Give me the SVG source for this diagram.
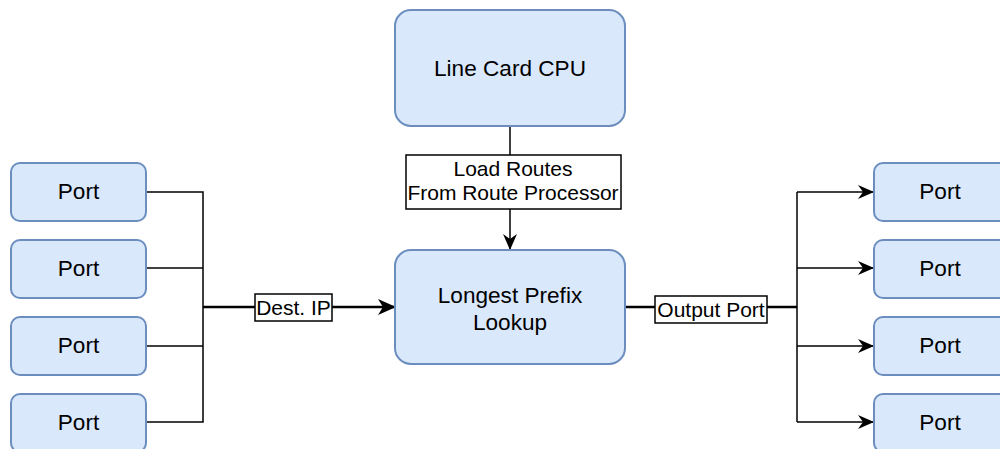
<svg xmlns="http://www.w3.org/2000/svg" width="1000" height="449" viewBox="0 0 1000 449">
<style>
.node{fill:#dae8fc;stroke:#6c8ebf;stroke-width:2}
.t{font-family:"Liberation Sans",Arial,sans-serif;font-size:22.6px;fill:#000;text-anchor:middle}
.lt{font-family:"Liberation Sans",Arial,sans-serif;font-size:21px;fill:#000;text-anchor:middle}
.thin{fill:none;stroke:#000;stroke-width:1.5}
.thick{fill:none;stroke:#000;stroke-width:2.5}
.lbl{fill:#fff;stroke:#000;stroke-width:1.5}
</style>
<defs>
<marker id="arr" markerWidth="16" markerHeight="14" refX="15" refY="7" orient="auto" markerUnits="userSpaceOnUse">
<path d="M0,0 L16,7 L0,14 L5,7 Z" fill="#000"/>
</marker>
<marker id="arrB" markerWidth="18" markerHeight="16" refX="17" refY="8" orient="auto" markerUnits="userSpaceOnUse">
<path d="M0,0 L18,8 L0,16 L5,8 Z" fill="#000"/>
</marker>
</defs>
<g id="connectors">
<path class="thin" d="M146,192 H203 V422 H146"/>
<path class="thin" d="M146,268 H203"/>
<path class="thin" d="M146,346 H203"/>
<path class="thick" d="M203,307 H395" marker-end="url(#arrB)"/>
<path class="thick" d="M625,307 H797"/>
<path class="thin" d="M797,192 V422"/>
<path class="thin" d="M797,192 H873" marker-end="url(#arr)"/>
<path class="thin" d="M797,268 H873" marker-end="url(#arr)"/>
<path class="thin" d="M797,346 H873" marker-end="url(#arr)"/>
<path class="thin" d="M797,422 H873" marker-end="url(#arr)"/>
<path class="thin" d="M510,126 V249" marker-end="url(#arr)"/>
<rect class="lbl" x="406" y="155" width="215" height="54"/>
<text class="lt" x="513" y="176">Load Routes</text>
<text class="lt" x="513" y="200">From Route Processor</text>
<rect class="lbl" x="255" y="294" width="77" height="27"/>
<text class="lt" x="293.5" y="315">Dest. IP</text>
<rect class="lbl" x="655" y="296" width="112" height="27"/>
<text class="lt" x="711" y="317">Output Port</text>
</g>
<g id="cpu">
<rect class="node" x="395" y="10" width="230" height="116" rx="16"/>
<text class="t" x="510" y="76">Line Card CPU</text>
</g>
<g id="lpl">
<rect class="node" x="395" y="250" width="230" height="114" rx="16"/>
<text class="t" x="510" y="303">Longest Prefix</text>
<text class="t" x="510" y="330">Lookup</text>
</g>
<g id="inPort1"><rect class="node" x="11" y="163" width="135" height="58" rx="9"/><text class="t" x="78.5" y="199">Port</text></g>
<g id="inPort2"><rect class="node" x="11" y="240" width="135" height="58" rx="9"/><text class="t" x="78.5" y="276">Port</text></g>
<g id="inPort3"><rect class="node" x="11" y="317" width="135" height="58" rx="9"/><text class="t" x="78.5" y="353">Port</text></g>
<g id="inPort4"><rect class="node" x="11" y="394" width="135" height="58" rx="9"/><text class="t" x="78.5" y="430">Port</text></g>
<g id="outPort1"><rect class="node" x="874" y="163" width="135" height="58" rx="9"/><text class="t" x="940" y="199">Port</text></g>
<g id="outPort2"><rect class="node" x="874" y="240" width="135" height="58" rx="9"/><text class="t" x="940" y="276">Port</text></g>
<g id="outPort3"><rect class="node" x="874" y="317" width="135" height="58" rx="9"/><text class="t" x="940" y="353">Port</text></g>
<g id="outPort4"><rect class="node" x="874" y="394" width="135" height="58" rx="9"/><text class="t" x="940" y="430">Port</text></g>
</svg>
